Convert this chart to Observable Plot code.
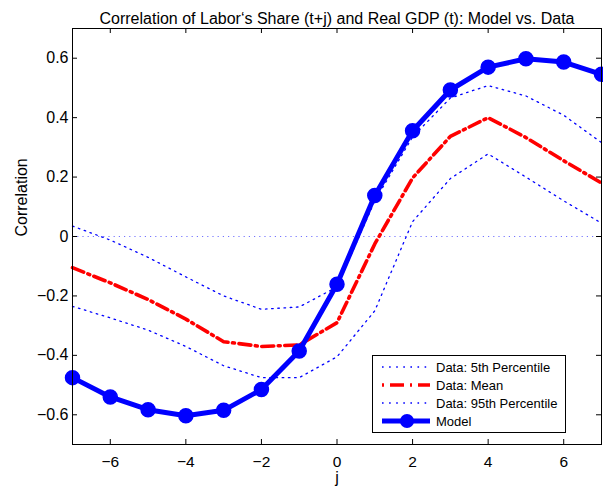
<!DOCTYPE html>
<html>
<head>
<meta charset="utf-8">
<script src="https://cdn.jsdelivr.net/npm/d3@7"></script>
<script src="https://cdn.jsdelivr.net/npm/@observablehq/plot@0.6"></script>
<style>
  html, body { margin: 0; padding: 0; background: white; }
  #wrap { position: relative; width: 603px; height: 493px; font-family: "Liberation Sans", Arial, Helvetica, sans-serif; }
  #legend { position: absolute; left: 371.5px; top: 354.5px; }
</style>
</head>
<body>
<div id="wrap"></div>
<script>
// ---- data ----
const lags = [-7, -6, -5, -4, -3, -2, -1, 0, 1, 2, 3, 4, 5, 6, 7];
const model = [-0.475, -0.54, -0.583, -0.603, -0.585, -0.515, -0.385, -0.161, 0.138, 0.356, 0.493, 0.570, 0.598, 0.587, 0.546];
const dataMean = [-0.105, -0.156, -0.212, -0.278, -0.354, -0.370, -0.365, -0.290, -0.025, 0.197, 0.337, 0.400, 0.333, 0.255, 0.180];
const dataP5 = [-0.235, -0.274, -0.315, -0.370, -0.435, -0.475, -0.475, -0.405, -0.250, 0.050, 0.195, 0.278, 0.200, 0.120, 0.045];
const dataP95 = [0.035, -0.012, -0.070, -0.136, -0.200, -0.245, -0.237, -0.170, 0.120, 0.335, 0.466, 0.508, 0.473, 0.408, 0.316];
const xTicks = [-6, -4, -2, 0, 2, 4, 6];
const yTicks = [-0.6, -0.4, -0.2, 0, 0.2, 0.4, 0.6];
const titleText = "Correlation of Labor‘s Share (t+j) and Real GDP (t): Model vs. Data";
const xLabel = "j";
const yLabel = "Correlation";
const legendLabels = ["Data: 5th Percentile", "Data: Mean", "Data: 95th Percentile", "Model"];

const rows = lags.map((j, i) => ({j, model: model[i], mean: dataMean[i], p5: dataP5[i], p95: dataP95[i]}));

const W = 603, H = 493, mL = 72, mR = 2, mT = 28, mB = 49;
const plotW = W - mL - mR, plotH = H - mT - mB;
const fmtY = d => d === 0 ? "0" : d.toFixed(1).replace("-", "\u2212");
const fmtX = d => String(d).replace("-", "\u2212");
const BLUE = "#0000ff", RED = "#ff0000";

const chart = Plot.plot({
  width: W, height: H,
  marginLeft: mL, marginRight: mR, marginTop: mT, marginBottom: mB,
  style: {fontFamily: "'Liberation Sans', Arial, Helvetica, sans-serif", fontSize: "16px", background: "white", color: "black", overflow: "visible"},
  x: {domain: [-7, 7]},
  y: {domain: [-0.7, 0.7]},
  marks: [
    Plot.ruleY([0], {stroke: BLUE, strokeWidth: 1, strokeOpacity: 0.55, strokeDasharray: "1.2,4"}),
    Plot.line(rows, {x: "j", y: "p95", stroke: BLUE, strokeWidth: 1.3, strokeDasharray: "1.6,4.6"}),
    Plot.line(rows, {x: "j", y: "p5", stroke: BLUE, strokeWidth: 1.3, strokeDasharray: "1.6,4.6"}),
    Plot.line(rows, {x: "j", y: "mean", stroke: RED, strokeWidth: 3.6, strokeDasharray: "12,4.5,2,4.5"}),
    Plot.line(rows, {x: "j", y: "model", stroke: BLUE, strokeWidth: 5}),
    Plot.dot(rows, {x: "j", y: "model", r: 7, fill: BLUE, stroke: BLUE}),
    Plot.frame({stroke: "black", strokeWidth: 1}),
    Plot.tickX(xTicks, {insetTop: plotH - 5, stroke: "black"}),
    Plot.tickX(xTicks, {insetBottom: plotH - 5, stroke: "black"}),
    Plot.tickY(yTicks, {insetLeft: plotW - 5, stroke: "black"}),
    Plot.tickY(yTicks, {insetRight: plotW - 5, stroke: "black"}),
    Plot.axisX({ticks: xTicks, tickSize: 0, tickPadding: 11, tickFormat: fmtX, label: null, fontSize: 15.5}),
    Plot.axisY({ticks: yTicks, tickSize: 0, tickPadding: 4, tickFormat: fmtY, label: null}),
    Plot.text([titleText], {frameAnchor: "top", dy: -16, fontSize: 16}),
    Plot.text([xLabel], {frameAnchor: "bottom", dy: 38.5, fontSize: 16}),
    Plot.text([yLabel], {frameAnchor: "left", rotate: -90, dx: -51, fontSize: 16})
  ]
});
const wrap = document.getElementById("wrap");
wrap.appendChild(chart);

// ---- legend (inside the axes, lower right) ----
const ns = "http://www.w3.org/2000/svg";
const lg = document.createElementNS(ns, "svg");
lg.setAttribute("id", "legend");
lg.setAttribute("width", 195);
lg.setAttribute("height", 79);
const styles = [
  {stroke: BLUE, w: 1.3, dash: "1.6,5.5"},
  {stroke: RED, w: 3.6, dash: "2,6,14,6"},
  {stroke: BLUE, w: 1.3, dash: "1.6,5.5"},
  {stroke: BLUE, w: 5, dash: null, marker: true}
];
let html = `<rect x="0.5" y="0.5" width="193" height="77" fill="white" stroke="black" stroke-width="1"/>`;
const rowY = [12, 30, 48, 66];
legendLabels.forEach((lab, i) => {
  const s = styles[i], y = rowY[i];
  html += `<line x1="10" x2="58" y1="${y}" y2="${y}" stroke="${s.stroke}" stroke-width="${s.w}"${s.dash ? ` stroke-dasharray="${s.dash}"` : ""}/>`;
  if (s.marker) html += `<circle cx="35" cy="${y}" r="7" fill="${BLUE}"/>`;
  html += `<text x="64" y="${y}" dy="0.35em" font-size="13" font-family="'Liberation Sans', Arial, sans-serif">${lab}</text>`;
});
lg.innerHTML = html;
wrap.appendChild(lg);
</script>
</body>
</html>
